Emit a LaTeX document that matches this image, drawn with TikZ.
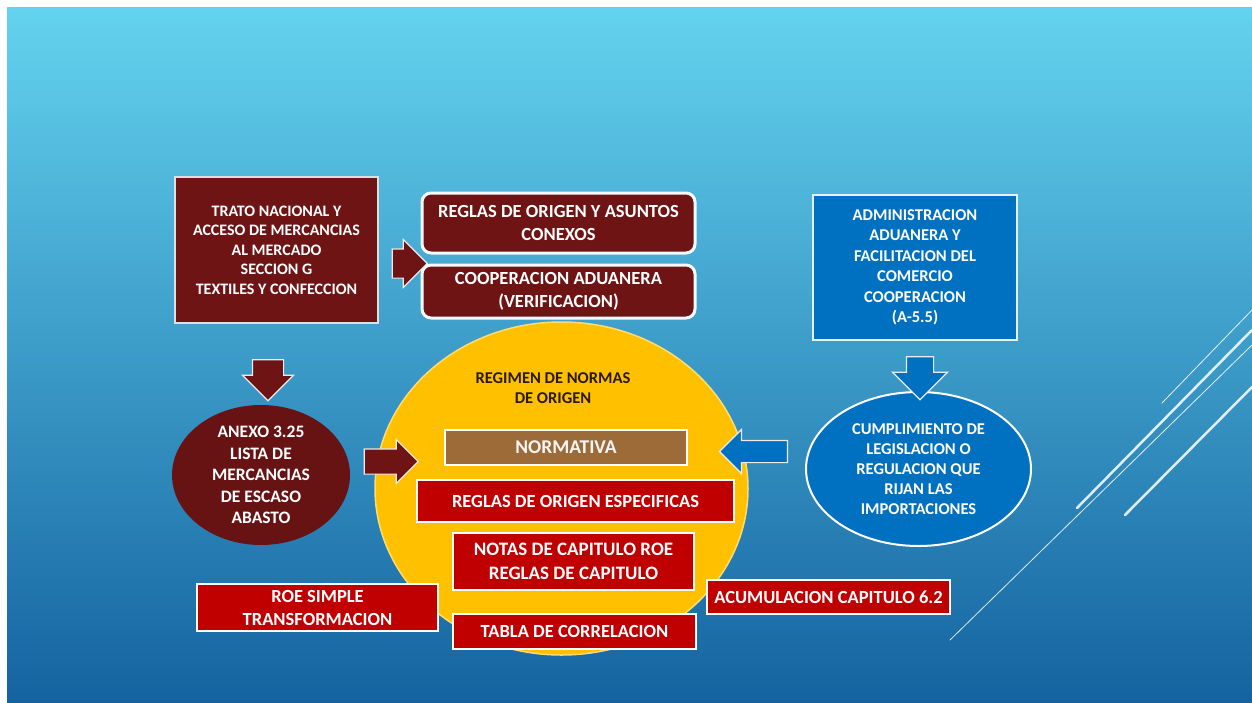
\documentclass[tikz,border=0pt]{standalone}
\usepackage{fontspec}
\setmainfont{Carlito}
\usetikzlibrary{shapes.arrows,shapes.geometric}
\definecolor{granate}{HTML}{6E1414}
\definecolor{rojo}{HTML}{C00000}
\definecolor{cafe}{HTML}{9C6B38}
\definecolor{amarillo}{HTML}{FFC000}
\definecolor{azul}{HTML}{0070C0}
\definecolor{cielo}{HTML}{64D3EF}
\definecolor{fondo}{HTML}{1463A0}
\definecolor{oscuro}{HTML}{2A1A05}
\newcommand{\fs}[2]{\fontsize{#1}{#2}\selectfont}

\begin{document}
\begin{tikzpicture}[x=1pt,y=-1pt,
		caja/.style={rectangle,align=center,text=white,inner sep=0pt},
		rojocaja/.style={caja,fill=rojo,draw=white,line width=1.5pt,font=\bfseries\fs{18.5}{23}},
		redondo/.style={caja,fill=granate,draw=white!92!cielo,line width=3pt,rounded corners=9pt,minimum width=273pt,font=\bfseries\fs{18.5}{23}},
		flecha/.style={single arrow,single arrow head extend=#1,draw=white!85!gray,line width=1.2pt},
		flecha/.default=10pt,
		raya/.style={draw=white,opacity=0.85,line cap=round}]
	\useasboundingbox (0,0) rectangle (1252,702);
	\fill[white] (0,0) rectangle (1252,702);
	\shade[top color=cielo,bottom color=fondo] (7,7) rectangle (1252,702);
	\draw[raya,line width=2.5pt] (1077,508) -- (1252,330);
	\draw[raya,line width=0.8pt] (1162,403) -- (1252,310);
	\draw[raya,line width=0.8pt] (950,640) -- (1252,345);
	\draw[raya,line width=2.5pt] (1125,515) -- (1252,387);

	\node[caja,fill=granate,draw=white!75!gray,line width=2.5pt,minimum width=203pt,minimum height=146pt,font=\bfseries\fs{16}{19.5}] (trato) at (276.5,250) {TRATO NACIONAL Y\\ACCESO DE MERCANCIAS\\AL MERCADO\\SECCION G\\TEXTILES Y CONFECCION};
	\node[redondo,minimum height=60pt] (reglas) at (558.5,223) {REGLAS DE ORIGEN Y ASUNTOS\\CONEXOS};
	\node[redondo,minimum height=53pt] (coop) at (558.5,291.5) {COOPERACION ADUANERA\\(VERIFICACION)};
	\node[caja,fill=azul,draw=white!90!azul,line width=2pt,minimum width=204pt,minimum height=145pt,font=\bfseries\fs{16.5}{20.5}] (admin) at (915,267.5) {ADMINISTRACION\\ADUANERA Y\\FACILITACION DEL\\COMERCIO\\COOPERACION\\(A-5.5)};
	\node[caja,ellipse,fill=azul,draw=white,line width=2pt,minimum width=225pt,minimum height=154pt,font=\bfseries\fs{16.5}{20}] (cumple) at (918.5,469) {CUMPLIMIENTO DE\\LEGISLACION O\\REGULACION QUE\\RIJAN LAS\\IMPORTACIONES};
	\node[caja,ellipse,fill=granate!95!black,minimum width=178pt,minimum height=140pt,font=\bfseries\fs{17.5}{21.5}] (anexo) at (261,475) {ANEXO 3.25\\LISTA DE\\MERCANCIAS\\DE ESCASO\\ABASTO};
	\node[ellipse,fill=amarillo,draw=amarillo!55!white,line width=1.5pt,minimum width=373pt,minimum height=333pt] (regimen) at (561.5,488.5) {};
	\node[caja,text=oscuro,font=\bfseries\fs{16.5}{20}] (titulo) at (553,388) {REGIMEN DE NORMAS\\DE ORIGEN};
	\node[caja,fill=cafe,draw=white,line width=1.5pt,minimum width=242pt,minimum height=35pt,text=white!92!gray,font=\bfseries\fs{19.5}{23}] (normativa) at (566,447.5) {NORMATIVA};
	\node[rojocaja,minimum width=317pt,minimum height=42pt] (especificas) at (575.5,501) {REGLAS DE ORIGEN ESPECIFICAS};
	\node[rojocaja,minimum width=241pt,minimum height=57pt,font=\bfseries\fs{19}{24}] (notas) at (573.5,561.5) {NOTAS DE CAPITULO ROE\\REGLAS DE CAPITULO};
	\node[rojocaja,minimum width=241pt,minimum height=47pt] (roe) at (317.5,607.5) {ROE SIMPLE\\TRANSFORMACION};
	\node[rojocaja,minimum width=243pt,minimum height=35pt] (tabla) at (574.5,631.5) {TABLA DE CORRELACION};
	\node[rojocaja,minimum width=243pt,minimum height=34pt] (acum) at (828.5,597) {ACUMULACION CAPITULO 6.2};

	\node[flecha=9.5pt,fill=granate,inner xsep=0pt,inner ysep=14pt,minimum height=35pt] (f1) at (402.5,263.5) {};
	\node[flecha,fill=granate,inner xsep=15pt,inner ysep=0pt,minimum height=41pt,shape border rotate=270] (f2) at (268,372.5) {};
	\node[flecha=9.5pt,fill=granate,inner xsep=0pt,inner ysep=12pt,minimum height=54pt] (f3) at (385,461.5) {};
	\node[flecha=14pt,fill=azul,inner xsep=13pt,inner ysep=0pt,minimum height=43pt,shape border rotate=270] (f4) at (920,371.5) {};
	\node[flecha=11pt,fill=azul,inner xsep=0pt,inner ysep=10.5pt,minimum height=68pt,shape border rotate=180] (f5) at (759,451.5) {};
\end{tikzpicture}
\end{document}
